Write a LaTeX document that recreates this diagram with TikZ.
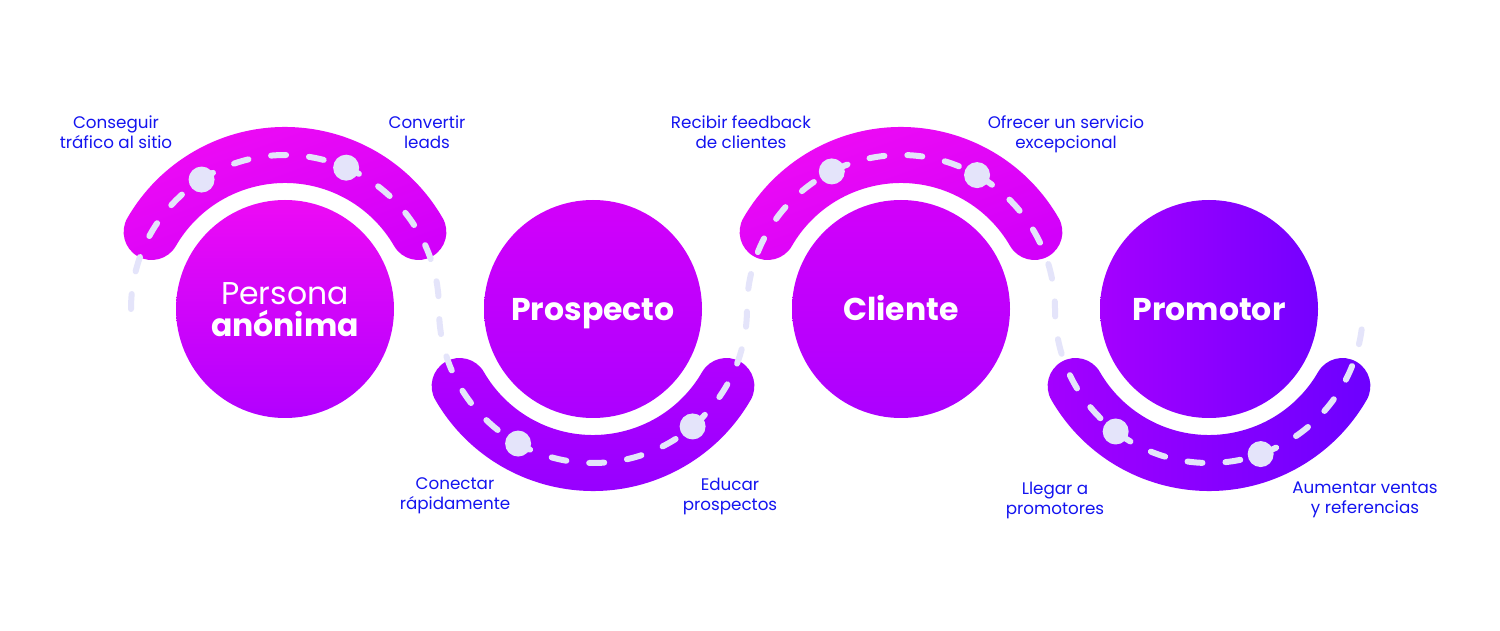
\documentclass[tikz,border=0pt]{standalone}
\usepackage{fontspec}
\setmainfont{Poppins}
\usetikzlibrary{calc}
\definecolor{lblue}{HTML}{1414F0}
\definecolor{lav}{HTML}{E4E4FA}
\definecolor{mA}{HTML}{F20CF4}
\definecolor{mB}{HTML}{D200FA}
\definecolor{mC}{HTML}{B200FF}
\definecolor{mD}{HTML}{9200FF}
\definecolor{mE}{HTML}{A400FF}
\definecolor{mF}{HTML}{6C00FF}
\tikzset{
  lbl/.style={text=lblue,align=center,font=\fontsize{16.75}{20}\selectfont},
  circ/.style={circle,minimum size=218pt,inner sep=0pt},
  ctext/.style={text=white,anchor=base,inner sep=0pt,font=\fontsize{31.5}{32}\selectfont\bfseries},
  dashline/.style={draw=lav,line width=6pt,line cap=round,dash pattern=on 15pt off 23pt},
  dotc/.style={fill=lav}
}
\newcommand\myband[4]{%
  \shade[#4] ($(#1)+(#2:182)$) arc[start angle=#2,end angle=#3,radius=182]
    arc[start angle=#3,end angle=#3+180,radius=28]
    arc[start angle=#3,end angle=#2,radius=126]
    arc[start angle=#2+180,end angle=#2+360,radius=28] -- cycle;}
\begin{document}
\begin{tikzpicture}[x=1pt,y=1pt]
\useasboundingbox (0,0) rectangle (1500,630);
\fill[white] (0,0) rectangle (1500,630);
\coordinate (c1) at (285,321);
\coordinate (c2) at (593,321);
\coordinate (c3) at (901,321);
\coordinate (c4) at (1209,321);
% bands
\myband{c1}{30}{150}{left color=mA,right color=mB,shading angle=20}
\myband{c2}{210}{330}{top color=mC,bottom color=mD}
\myband{c3}{30}{150}{left color=mA,right color=mB,shading angle=20}
\myband{c4}{210}{330}{left color=mE,right color=mF}
% circles
\node[circ,shade,top color=mA!85!mB,bottom color=mC] (p1) at (c1) {};
\node[circ,shade,top color=mB,bottom color=mC!80!mD] (p2) at (c2) {};
\node[circ,shade,top color=mB,bottom color=mC!80!mD] (p3) at (c3) {};
\node[circ,shade,left color=mE,right color=mF!85!mE] (p4) at (c4) {};
\node[ctext,font=\fontsize{31.5}{32}\selectfont] (t1a) at (285,325) {Persona};
\node[ctext] (t1b) at (285,293) {anónima};
\node[ctext] (t2) at (593,309) {Prospecto};
\node[ctext] (t3) at (901,309) {Cliente};
\node[ctext] (t4) at (1209,309) {Promotor};
% dashed path
\draw[dashline] ($(c1)+(180:154)$) arc[start angle=180,end angle=0,radius=154]
  arc[start angle=180,end angle=360,radius=154]
  arc[start angle=180,end angle=0,radius=154]
  arc[start angle=180,end angle=360,radius=154];
% dots
\fill[dotc] ($(c1)+(122.8:154)$) circle (13);
\fill[dotc] ($(c1)+(66.6:154)$) circle (13);
\fill[dotc] ($(c2)+(240.9:154)$) circle (13);
\fill[dotc] ($(c2)+(310.3:154)$) circle (13);
\fill[dotc] ($(c3)+(116.7:154)$) circle (13);
\fill[dotc] ($(c3)+(60.4:154)$) circle (13);
\fill[dotc] ($(c4)+(232.7:154)$) circle (13);
\fill[dotc] ($(c4)+(289.6:154)$) circle (13);
% labels
\node[lbl] (l1) at (116,498) {Conseguir\\tráfico al sitio};
\node[lbl] (l2) at (427,498) {Convertir\\leads};
\node[lbl] (l3) at (455,134) {Conectar\\rápidamente};
\node[lbl] (l4) at (730,134) {Educar\\prospectos};
\node[lbl] (l5) at (741,498) {Recibir feedback\\de clientes};
\node[lbl] (l6) at (1066,496) {Ofrecer un servicio\\excepcional};
\node[lbl] (l7) at (1055,130) {Llegar a\\promotores};
\node[lbl] (l8) at (1365,130) {Aumentar ventas\\y referencias};
\end{tikzpicture}
\end{document}
